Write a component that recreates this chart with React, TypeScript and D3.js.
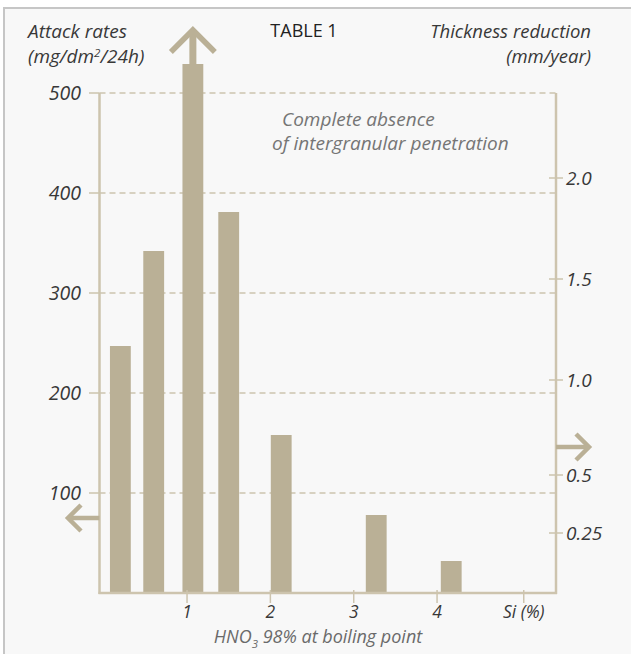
import React from "react";
import * as d3 from "d3";

// ---- data ----
const siValues = [0.2, 0.6, 1.07, 1.5, 2.13, 3.27, 4.17];
const attackRates = [247, 342, 529, 381, 158, 78, 32];
const leftTicks = [100, 200, 300, 400, 500];
const rightTicks = [0.25, 0.5, 1.0, 1.5, 2.0];
const rightTickLabels = ["0.25", "0.5", "1.0", "1.5", "2.0"];
const xTicks = [1, 2, 3, 4];
const xTickLabels = ["1", "2", "3", "4"];

const W = 631;
const H = 654;
const BAR = "#bab096";
const AXIS = "#cdc4ae";
const GRID = "#cbc3ae";
const TEXT = "#383838";
const FONT = "'Open Sans', sans-serif";

export default function App() {
  const plotLeft = 99.5;
  const plotRight = 556;
  const yLeft = d3.scaleLinear().domain([0, 500]).range([593, 93]);
  // right axis is non-linear in the original; piecewise linear scale
  const yRight = d3
    .scaleLinear()
    .domain([0.25, 0.5, 1.0, 1.5, 2.0])
    .range([533, 475, 380, 279, 178]);
  const x = d3.scaleLinear().domain([0, 5]).range([103.7, 520.4]);
  const barW = x(0.25) - x(0);
  const base = yLeft(0);

  const topBarX = x(siValues[2]);
  const topBarY = yLeft(attackRates[2]);

  const italic = { fontFamily: FONT, fontStyle: "italic", fontWeight: 400 } as const;

  return (
    <svg
      width={W}
      height={H}
      style={{ position: "absolute", left: 0, top: 0, background: "#fff" }}
    >
      {/* frame */}
      <rect x={4} y={8} width={W} height={H} fill="#f8f8f8" stroke="#c6c6c6" strokeWidth={2} />

      {/* gridlines */}
      {leftTicks.map((t) => (
        <line
          key={"g" + t}
          x1={plotLeft}
          x2={plotRight}
          y1={yLeft(t)}
          y2={yLeft(t)}
          stroke={GRID}
          strokeWidth={1.3}
          strokeDasharray="6 4"
        />
      ))}

      {/* bars */}
      {siValues.map((s, i) => (
        <rect
          key={"b" + i}
          x={x(s) - barW / 2}
          y={yLeft(attackRates[i])}
          width={barW}
          height={base - yLeft(attackRates[i])}
          fill={BAR}
        />
      ))}

      {/* axes */}
      <line x1={plotLeft} x2={plotLeft} y1={yLeft(500)} y2={base + 1} stroke={AXIS} strokeWidth={2.5} />
      <line x1={plotRight} x2={plotRight} y1={yLeft(500)} y2={base + 1} stroke={AXIS} strokeWidth={2.5} />
      <line x1={plotLeft - 1} x2={plotRight + 1} y1={base} y2={base} stroke={AXIS} strokeWidth={2.5} />

      {/* left ticks */}
      {leftTicks.map((t) => (
        <g key={"lt" + t}>
          <line x1={89} x2={plotLeft} y1={yLeft(t)} y2={yLeft(t)} stroke={AXIS} strokeWidth={1.5} />
          <text x={81} y={yLeft(t) + 6.5} textAnchor="end" fontSize={19.5} fill={TEXT} style={italic}>
            {t}
          </text>
        </g>
      ))}

      {/* right ticks */}
      {rightTicks.map((t, i) => (
        <g key={"rt" + t}>
          <line x1={plotRight - 7} x2={plotRight + 7} y1={yRight(t)} y2={yRight(t)} stroke={AXIS} strokeWidth={1.5} />
          <text x={566} y={yRight(t) + 7} fontSize={19} fill={TEXT} style={italic}>
            {rightTickLabels[i]}
          </text>
        </g>
      ))}

      {/* x ticks */}
      {xTicks.map((t, i) => (
        <g key={"xt" + t}>
          <line x1={x(t)} x2={x(t)} y1={base - 3} y2={base + 10} stroke={AXIS} strokeWidth={1.5} />
          <text x={x(t)} y={618} textAnchor="middle" fontSize={17.5} fill={TEXT} style={italic}>
            {xTickLabels[i]}
          </text>
        </g>
      ))}
      <line x1={x(5.04)} x2={x(5.04)} y1={base - 3} y2={base + 10} stroke={AXIS} strokeWidth={1.5} />
      <text x={x(5.04)} y={618} textAnchor="middle" fontSize={17.5} fill={TEXT} style={italic}>
        Si (%)
      </text>

      {/* arrows */}
      <g stroke={BAR} fill="none" strokeLinejoin="miter">
        <line x1={topBarX} x2={topBarX} y1={topBarY} y2={31} strokeWidth={7} />
        <polyline points={`${topBarX - 22},${52} ${topBarX},${30} ${topBarX + 22},${52}`} strokeWidth={5.5} />
        <line x1={plotLeft} x2={68} y1={yLeft(75)} y2={yLeft(75)} strokeWidth={4.5} />
        <polyline points={`${81},${yLeft(75) - 13} ${68},${yLeft(75)} ${81},${yLeft(75) + 13}`} strokeWidth={4.5} />
        <line x1={plotRight} x2={589} y1={447} y2={447} strokeWidth={4.5} />
        <polyline points={`${576},${434} ${589},${447} ${576},${460}`} strokeWidth={4.5} />
      </g>

      {/* titles */}
      <text x={28} y={38} fontSize={19} fill={TEXT} style={italic}>Attack rates</text>
      <text x={28} y={63} fontSize={19} fill={TEXT} style={italic}>
        (mg/dm<tspan dy={-6} fontSize={11.5}>2</tspan><tspan dy={6}>/24h)</tspan>
      </text>
      <text x={304} y={37} textAnchor="middle" fontSize={18} fill="#222" fontFamily={FONT}>TABLE 1</text>
      <text x={591} y={38} textAnchor="end" fontSize={18.5} fill={TEXT} style={italic}>Thickness reduction</text>
      <text x={591} y={63} textAnchor="end" fontSize={18.5} fill={TEXT} style={italic}>(mm/year)</text>

      <text x={282} y={126} fontSize={19} fill="#757575" style={italic}>Complete absence</text>
      <text x={272} y={150} fontSize={19} fill="#757575" style={italic}>of intergranular penetration</text>

      <text x={318} y={643} textAnchor="middle" fontSize={18} fill="#6a6a6a" style={italic}>
        HNO<tspan dy={5} fontSize={11.5}>3</tspan><tspan dy={-5}> 98% at boiling point</tspan>
      </text>
    </svg>
  );
}
